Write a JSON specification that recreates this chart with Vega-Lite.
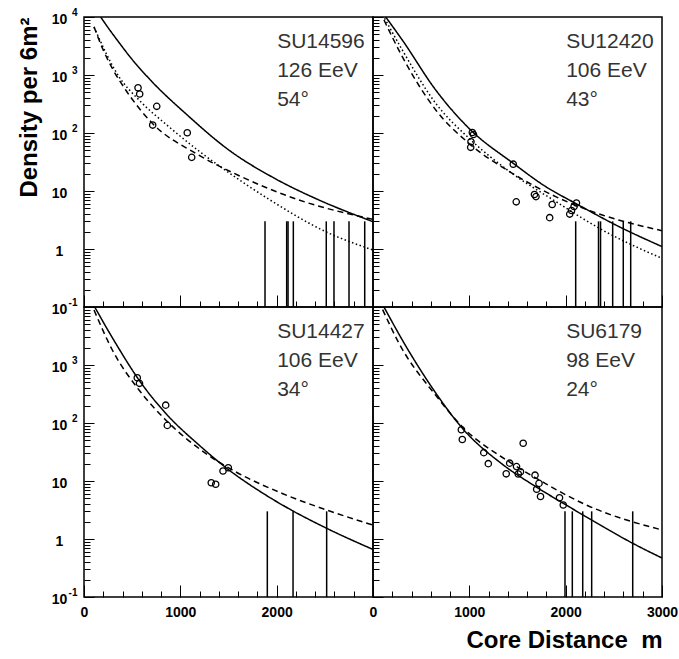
{
  "$schema": "https://vega.github.io/schema/vega-lite/v6.json",
  "background": "white",
  "padding": {"left": 16, "top": 6, "right": 5, "bottom": 5},
  "spacing": 0,
  "columns": 2,
  "bounds": "flush",
  "config": {
    "view": {"stroke": "black", "strokeWidth": 1.5},
    "font": "Liberation Sans",
    "axis": {"domain": false, "grid": false, "tickColor": "black", "tickWidth": 1, "labelFont": "Liberation Sans", "labelFontWeight": "bold", "labelColor": "black", "labelOverlap": false, "labelFlush": false, "labelFontSize": 14, "titleFont": "Liberation Sans", "titleFontWeight": "bold", "titleColor": "black", "titleFontSize": 24}
  },
  "datasets": {
    "pts": [
      {"p": "TL", "d": 561, "rho": 604}, {"p": "TL", "d": 578, "rho": 470}, {"p": "TL", "d": 755, "rho": 288},
      {"p": "TL", "d": 713, "rho": 137}, {"p": "TL", "d": 1072, "rho": 101}, {"p": "TL", "d": 1118, "rho": 38},
      {"p": "TR", "d": 1031, "rho": 102}, {"p": "TR", "d": 1043, "rho": 94}, {"p": "TR", "d": 1017, "rho": 70.8},
      {"p": "TR", "d": 1014, "rho": 56.6}, {"p": "TR", "d": 1456, "rho": 29}, {"p": "TR", "d": 1487, "rho": 6.5},
      {"p": "TR", "d": 1676, "rho": 8.7}, {"p": "TR", "d": 1692, "rho": 8.0}, {"p": "TR", "d": 1860, "rho": 5.85},
      {"p": "TR", "d": 1834, "rho": 3.47}, {"p": "TR", "d": 2042, "rho": 4.0}, {"p": "TR", "d": 2061, "rho": 4.6},
      {"p": "TR", "d": 2087, "rho": 5.4}, {"p": "TR", "d": 2112, "rho": 6.2},
      {"p": "BL", "d": 553, "rho": 604}, {"p": "BL", "d": 576, "rho": 483}, {"p": "BL", "d": 848, "rho": 203},
      {"p": "BL", "d": 865, "rho": 91}, {"p": "BL", "d": 1321, "rho": 9.35}, {"p": "BL", "d": 1367, "rho": 8.8},
      {"p": "BL", "d": 1443, "rho": 14.9}, {"p": "BL", "d": 1498, "rho": 16.9},
      {"p": "BR", "d": 917, "rho": 76.6}, {"p": "BR", "d": 927, "rho": 52}, {"p": "BR", "d": 1150, "rho": 30.8},
      {"p": "BR", "d": 1197, "rho": 19.9}, {"p": "BR", "d": 1383, "rho": 13.3}, {"p": "BR", "d": 1419, "rho": 20.3},
      {"p": "BR", "d": 1490, "rho": 17.7}, {"p": "BR", "d": 1508, "rho": 13.2}, {"p": "BR", "d": 1531, "rho": 14.4},
      {"p": "BR", "d": 1559, "rho": 44.7}, {"p": "BR", "d": 1682, "rho": 12.6}, {"p": "BR", "d": 1723, "rho": 9.1},
      {"p": "BR", "d": 1699, "rho": 7.2}, {"p": "BR", "d": 1739, "rho": 5.4}, {"p": "BR", "d": 1936, "rho": 5.15},
      {"p": "BR", "d": 1975, "rho": 3.86}
    ],
    "curves": [
      {"p": "TL", "s": "solid", "d": 173, "rho": 10000}, {"p": "TL", "s": "solid", "d": 250, "rho": 6546},
      {"p": "TL", "s": "solid", "d": 350, "rho": 3890}, {"p": "TL", "s": "solid", "d": 501, "rho": 1840},
      {"p": "TL", "s": "solid", "d": 700, "rho": 785}, {"p": "TL", "s": "solid", "d": 1072, "rho": 204},
      {"p": "TL", "s": "solid", "d": 1500, "rho": 51.4}, {"p": "TL", "s": "solid", "d": 2000, "rho": 15.8},
      {"p": "TL", "s": "solid", "d": 2422, "rho": 7.2}, {"p": "TL", "s": "solid", "d": 3000, "rho": 2.96},
      {"p": "TL", "s": "dashed", "d": 104, "rho": 6760}, {"p": "TL", "s": "dashed", "d": 200, "rho": 2690},
      {"p": "TL", "s": "dashed", "d": 300, "rho": 1245}, {"p": "TL", "s": "dashed", "d": 433, "rho": 551},
      {"p": "TL", "s": "dashed", "d": 709, "rho": 147}, {"p": "TL", "s": "dashed", "d": 1159, "rho": 44.7},
      {"p": "TL", "s": "dashed", "d": 1600, "rho": 18.7}, {"p": "TL", "s": "dashed", "d": 2232, "rho": 7.0},
      {"p": "TL", "s": "dashed", "d": 3000, "rho": 3.25},
      {"p": "TL", "s": "dotted", "d": 104, "rho": 6700}, {"p": "TL", "s": "dotted", "d": 363, "rho": 935},
      {"p": "TL", "s": "dotted", "d": 571, "rho": 371}, {"p": "TL", "s": "dotted", "d": 882, "rho": 128},
      {"p": "TL", "s": "dotted", "d": 1200, "rho": 47.9}, {"p": "TL", "s": "dotted", "d": 1500, "rho": 20.9},
      {"p": "TL", "s": "dotted", "d": 1920, "rho": 7.2}, {"p": "TL", "s": "dotted", "d": 2509, "rho": 1.99},
      {"p": "TL", "s": "dotted", "d": 3000, "rho": 0.96},
      {"p": "TR", "s": "solid", "d": 132, "rho": 10000}, {"p": "TR", "s": "solid", "d": 304, "rho": 4010},
      {"p": "TR", "s": "solid", "d": 651, "rho": 551}, {"p": "TR", "s": "solid", "d": 997, "rho": 120},
      {"p": "TR", "s": "solid", "d": 1456, "rho": 30}, {"p": "TR", "s": "solid", "d": 1793, "rho": 11.9},
      {"p": "TR", "s": "solid", "d": 2104, "rho": 6.1}, {"p": "TR", "s": "solid", "d": 2554, "rho": 2.43},
      {"p": "TR", "s": "solid", "d": 3000, "rho": 1.1},
      {"p": "TR", "s": "dashed", "d": 114, "rho": 8870}, {"p": "TR", "s": "dashed", "d": 304, "rho": 2070},
      {"p": "TR", "s": "dashed", "d": 651, "rho": 250}, {"p": "TR", "s": "dashed", "d": 997, "rho": 66},
      {"p": "TR", "s": "dashed", "d": 1446, "rho": 20.2}, {"p": "TR", "s": "dashed", "d": 1896, "rho": 8.0},
      {"p": "TR", "s": "dashed", "d": 2380, "rho": 3.86}, {"p": "TR", "s": "dashed", "d": 3000, "rho": 2.07},
      {"p": "TR", "s": "dotted", "d": 120, "rho": 9500}, {"p": "TR", "s": "dotted", "d": 304, "rho": 2700},
      {"p": "TR", "s": "dotted", "d": 651, "rho": 325}, {"p": "TR", "s": "dotted", "d": 997, "rho": 81},
      {"p": "TR", "s": "dotted", "d": 1446, "rho": 20}, {"p": "TR", "s": "dotted", "d": 1896, "rho": 6.6},
      {"p": "TR", "s": "dotted", "d": 2380, "rho": 2.13}, {"p": "TR", "s": "dotted", "d": 3000, "rho": 0.69},
      {"p": "BL", "s": "solid", "d": 111, "rho": 10000}, {"p": "BL", "s": "solid", "d": 329, "rho": 2365},
      {"p": "BL", "s": "solid", "d": 571, "rho": 551}, {"p": "BL", "s": "solid", "d": 848, "rho": 147},
      {"p": "BL", "s": "solid", "d": 1194, "rho": 41.7}, {"p": "BL", "s": "solid", "d": 1443, "rho": 18.6},
      {"p": "BL", "s": "solid", "d": 1886, "rho": 5.74}, {"p": "BL", "s": "solid", "d": 2170, "rho": 3.04},
      {"p": "BL", "s": "solid", "d": 2519, "rho": 1.53}, {"p": "BL", "s": "solid", "d": 3000, "rho": 0.66},
      {"p": "BL", "s": "dashed", "d": 104, "rho": 8870}, {"p": "BL", "s": "dashed", "d": 294, "rho": 1815},
      {"p": "BL", "s": "dashed", "d": 571, "rho": 371}, {"p": "BL", "s": "dashed", "d": 848, "rho": 113},
      {"p": "BL", "s": "dashed", "d": 1263, "rho": 30}, {"p": "BL", "s": "dashed", "d": 1540, "rho": 15.5},
      {"p": "BL", "s": "dashed", "d": 2058, "rho": 6.1}, {"p": "BL", "s": "dashed", "d": 2519, "rho": 3.16},
      {"p": "BL", "s": "dashed", "d": 3000, "rho": 1.74},
      {"p": "BR", "s": "solid", "d": 114, "rho": 10000}, {"p": "BR", "s": "solid", "d": 304, "rho": 2700},
      {"p": "BR", "s": "solid", "d": 651, "rho": 330}, {"p": "BR", "s": "solid", "d": 917, "rho": 85},
      {"p": "BR", "s": "solid", "d": 1342, "rho": 19.5}, {"p": "BR", "s": "solid", "d": 1689, "rho": 8.0},
      {"p": "BR", "s": "solid", "d": 2035, "rho": 3.6}, {"p": "BR", "s": "solid", "d": 2380, "rho": 1.66},
      {"p": "BR", "s": "solid", "d": 2692, "rho": 0.85}, {"p": "BR", "s": "solid", "d": 3000, "rho": 0.47},
      {"p": "BR", "s": "dashed", "d": 100, "rho": 9000}, {"p": "BR", "s": "dashed", "d": 270, "rho": 2365},
      {"p": "BR", "s": "dashed", "d": 651, "rho": 300}, {"p": "BR", "s": "dashed", "d": 927, "rho": 86},
      {"p": "BR", "s": "dashed", "d": 1412, "rho": 21.5}, {"p": "BR", "s": "dashed", "d": 1757, "rho": 9.7},
      {"p": "BR", "s": "dashed", "d": 2208, "rho": 3.9}, {"p": "BR", "s": "dashed", "d": 3000, "rho": 1.43}
    ],
    "bars": [
      {"p": "TL", "d": 1879, "hi": 3}, {"p": "TL", "d": 2104, "hi": 3}, {"p": "TL", "d": 2118, "hi": 3},
      {"p": "TL", "d": 2173, "hi": 3}, {"p": "TL", "d": 2515, "hi": 3}, {"p": "TL", "d": 2595, "hi": 3},
      {"p": "TL", "d": 2751, "hi": 3}, {"p": "TL", "d": 2914, "hi": 3},
      {"p": "TR", "d": 2104, "hi": 3}, {"p": "TR", "d": 2341, "hi": 3}, {"p": "TR", "d": 2362, "hi": 3},
      {"p": "TR", "d": 2488, "hi": 3}, {"p": "TR", "d": 2598, "hi": 3}, {"p": "TR", "d": 2675, "hi": 3},
      {"p": "BL", "d": 1903, "hi": 3}, {"p": "BL", "d": 2170, "hi": 3}, {"p": "BL", "d": 2519, "hi": 3},
      {"p": "BR", "d": 1993, "hi": 3}, {"p": "BR", "d": 2069, "hi": 3}, {"p": "BR", "d": 2177, "hi": 3},
      {"p": "BR", "d": 2270, "hi": 3}, {"p": "BR", "d": 2696, "hi": 3}
    ],
    "labels": [
      {"p": "TL", "d": 2005, "rho": 2925, "t": "SU14596"}, {"p": "TL", "d": 2005, "rho": 925, "t": "126 EeV"}, {"p": "TL", "d": 2005, "rho": 292, "t": "54°"},
      {"p": "TR", "d": 2005, "rho": 2925, "t": "SU12420"}, {"p": "TR", "d": 2005, "rho": 925, "t": "106 EeV"}, {"p": "TR", "d": 2005, "rho": 292, "t": "43°"},
      {"p": "BL", "d": 2005, "rho": 2925, "t": "SU14427"}, {"p": "BL", "d": 2005, "rho": 925, "t": "106 EeV"}, {"p": "BL", "d": 2005, "rho": 292, "t": "34°"},
      {"p": "BR", "d": 2005, "rho": 2925, "t": "SU6179"}, {"p": "BR", "d": 2005, "rho": 925, "t": "98 EeV"}, {"p": "BR", "d": 2005, "rho": 292, "t": "24°"}
    ]
  },
  "concat": [
    {
      "width": 289, "height": 290,
      "resolve": {"axis": {"x": "independent", "y": "independent"}},
      "layer": [
        {
          "data": {"name": "bars"},
          "transform": [{"filter": "datum.p === 'TL'"}],
          "mark": {"type": "rule", "color": "black", "strokeWidth": 1.5},
          "encoding": {
            "x": {"field": "d", "type": "quantitative", "scale": {"domain": [0, 3000], "nice": false, "zero": false},
              "axis": {"orient": "bottom", "values": [0, 1000, 2000, 3000], "tickSize": 12, "offset": -12, "labels": false, "title": null}},
            "y": {"field": "hi", "type": "quantitative", "scale": {"type": "log", "domain": [0.1, 10000], "nice": false},
              "axis": {"orient": "left", "values": [0.1, 1, 10, 100, 1000, 10000], "tickSize": 10, "offset": -10,
                "labelExpr": "datum.value === 1 ? '1' : '10'", "labelAlign": "center", "labelPadding": 25, "labelOffset": 2,
                "title": "Density per 6m²", "titleAnchor": "end", "titlePadding": 10}},
            "y2": {"datum": 0.1}
          }
        },
        {
          "data": {"name": "curves"},
          "transform": [{"filter": "datum.p === 'TL'"}],
          "mark": {"type": "line", "color": "black", "strokeWidth": 1.5, "interpolate": "monotone", "clip": true},
          "encoding": {
            "x": {"field": "d", "type": "quantitative",
              "axis": {"orient": "bottom", "values": [200,400,600,800,1200,1400,1600,1800,2200,2400,2600,2800], "tickSize": 6, "offset": -6, "labels": false, "title": null}},
            "y": {"field": "rho", "type": "quantitative",
              "axis": {"orient": "left", "values": [0.2,0.3,0.4,0.5,0.6,0.7,0.8,0.9,2,3,4,5,6,7,8,9,20,30,40,50,60,70,80,90,200,300,400,500,600,700,800,900,2000,3000,4000,5000,6000,7000,8000,9000], "tickSize": 6, "offset": -6, "labels": false, "title": null}},
            "strokeDash": {"field": "s", "type": "nominal", "scale": {"domain": ["solid", "dashed", "dotted"], "range": [[1, 0], [6, 4], [1.5, 2.5]]}, "legend": null}
          }
        },
        {
          "data": {"name": "pts"},
          "transform": [{"filter": "datum.p === 'TL'"}],
          "mark": {"type": "point", "shape": "circle", "filled": false, "color": "black", "size": 40, "strokeWidth": 1.3, "opacity": 1},
          "encoding": {
            "x": {"field": "d", "type": "quantitative", "axis": null},
            "y": {"field": "rho", "type": "quantitative",
              "axis": {"orient": "left", "values": [0.1, 100, 1000, 10000], "ticks": false,
                "labelExpr": "datum.value === 10000 ? '4' : datum.value === 1000 ? '3' : datum.value === 100 ? '2' : '-1'",
                "labelAlign": "right", "labelFontSize": 10, "labelPadding": 7, "labelOffset": -5, "title": null}}
          }
        },
        {
          "data": {"name": "labels"},
          "transform": [{"filter": "datum.p === 'TL'"}],
          "mark": {"type": "text", "align": "left", "baseline": "alphabetic", "fontSize": 21, "font": "Liberation Sans", "color": "#333"},
          "encoding": {
            "x": {"field": "d", "type": "quantitative", "axis": null},
            "y": {"field": "rho", "type": "quantitative", "axis": null},
            "text": {"field": "t"}
          }
        }
      ]
    },
    {
      "width": 289, "height": 290,
      "resolve": {"axis": {"x": "independent", "y": "independent"}},
      "layer": [
        {
          "data": {"name": "bars"},
          "transform": [{"filter": "datum.p === 'TR'"}],
          "mark": {"type": "rule", "color": "black", "strokeWidth": 1.5},
          "encoding": {
            "x": {"field": "d", "type": "quantitative", "scale": {"domain": [0, 3000], "nice": false, "zero": false},
              "axis": {"orient": "bottom", "values": [0, 1000, 2000, 3000], "tickSize": 12, "offset": -12, "labels": false, "title": null}},
            "y": {"field": "hi", "type": "quantitative", "scale": {"type": "log", "domain": [0.1, 10000], "nice": false},
              "axis": {"orient": "left", "values": [0.1, 1, 10, 100, 1000, 10000], "tickSize": 10, "offset": -10, "labels": false, "title": null}},
            "y2": {"datum": 0.1}
          }
        },
        {
          "data": {"name": "curves"},
          "transform": [{"filter": "datum.p === 'TR'"}],
          "mark": {"type": "line", "color": "black", "strokeWidth": 1.5, "interpolate": "monotone", "clip": true},
          "encoding": {
            "x": {"field": "d", "type": "quantitative",
              "axis": {"orient": "bottom", "values": [200,400,600,800,1200,1400,1600,1800,2200,2400,2600,2800], "tickSize": 6, "offset": -6, "labels": false, "title": null}},
            "y": {"field": "rho", "type": "quantitative",
              "axis": {"orient": "left", "values": [0.2,0.3,0.4,0.5,0.6,0.7,0.8,0.9,2,3,4,5,6,7,8,9,20,30,40,50,60,70,80,90,200,300,400,500,600,700,800,900,2000,3000,4000,5000,6000,7000,8000,9000], "tickSize": 6, "offset": -6, "labels": false, "title": null}},
            "strokeDash": {"field": "s", "type": "nominal", "scale": {"domain": ["solid", "dashed", "dotted"], "range": [[1, 0], [6, 4], [1.5, 2.5]]}, "legend": null}
          }
        },
        {
          "data": {"name": "pts"},
          "transform": [{"filter": "datum.p === 'TR'"}],
          "mark": {"type": "point", "shape": "circle", "filled": false, "color": "black", "size": 40, "strokeWidth": 1.3, "opacity": 1},
          "encoding": {
            "x": {"field": "d", "type": "quantitative", "axis": null},
            "y": {"field": "rho", "type": "quantitative", "axis": null}
          }
        },
        {
          "data": {"name": "labels"},
          "transform": [{"filter": "datum.p === 'TR'"}],
          "mark": {"type": "text", "align": "left", "baseline": "alphabetic", "fontSize": 21, "font": "Liberation Sans", "color": "#333"},
          "encoding": {
            "x": {"field": "d", "type": "quantitative", "axis": null},
            "y": {"field": "rho", "type": "quantitative", "axis": null},
            "text": {"field": "t"}
          }
        }
      ]
    },
    {
      "width": 289, "height": 290,
      "resolve": {"axis": {"x": "independent", "y": "independent"}},
      "layer": [
        {
          "data": {"name": "bars"},
          "transform": [{"filter": "datum.p === 'BL'"}],
          "mark": {"type": "rule", "color": "black", "strokeWidth": 1.5},
          "encoding": {
            "x": {"field": "d", "type": "quantitative", "scale": {"domain": [0, 3000], "nice": false, "zero": false},
              "axis": {"orient": "bottom", "values": [0, 1000, 2000, 3000], "tickSize": 12, "offset": -12,
                "labelExpr": "datum.value < 3000 ? '' + datum.value : ''", "labelPadding": 8, "title": null}},
            "y": {"field": "hi", "type": "quantitative", "scale": {"type": "log", "domain": [0.1, 10000], "nice": false},
              "axis": {"orient": "left", "values": [0.1, 1, 10, 100, 1000, 10000], "tickSize": 10, "offset": -10,
                "labelExpr": "datum.value === 1 ? '1' : datum.value === 10000 ? '' : '10'", "labelAlign": "center", "labelPadding": 25, "labelOffset": 2,
                "title": null}},
            "y2": {"datum": 0.1}
          }
        },
        {
          "data": {"name": "curves"},
          "transform": [{"filter": "datum.p === 'BL'"}],
          "mark": {"type": "line", "color": "black", "strokeWidth": 1.5, "interpolate": "monotone", "clip": true},
          "encoding": {
            "x": {"field": "d", "type": "quantitative",
              "axis": {"orient": "bottom", "values": [200,400,600,800,1200,1400,1600,1800,2200,2400,2600,2800], "tickSize": 6, "offset": -6, "labels": false, "title": null}},
            "y": {"field": "rho", "type": "quantitative",
              "axis": {"orient": "left", "values": [0.2,0.3,0.4,0.5,0.6,0.7,0.8,0.9,2,3,4,5,6,7,8,9,20,30,40,50,60,70,80,90,200,300,400,500,600,700,800,900,2000,3000,4000,5000,6000,7000,8000,9000], "tickSize": 6, "offset": -6, "labels": false, "title": null}},
            "strokeDash": {"field": "s", "type": "nominal", "scale": {"domain": ["solid", "dashed", "dotted"], "range": [[1, 0], [6, 4], [1.5, 2.5]]}, "legend": null}
          }
        },
        {
          "data": {"name": "pts"},
          "transform": [{"filter": "datum.p === 'BL'"}],
          "mark": {"type": "point", "shape": "circle", "filled": false, "color": "black", "size": 40, "strokeWidth": 1.3, "opacity": 1},
          "encoding": {
            "x": {"field": "d", "type": "quantitative", "axis": null},
            "y": {"field": "rho", "type": "quantitative",
              "axis": {"orient": "left", "values": [0.1, 100, 1000], "ticks": false,
                "labelExpr": "datum.value === 1000 ? '3' : datum.value === 100 ? '2' : '-1'",
                "labelAlign": "right", "labelFontSize": 10, "labelPadding": 7, "labelOffset": -5, "title": null}}
          }
        },
        {
          "data": {"name": "labels"},
          "transform": [{"filter": "datum.p === 'BL'"}],
          "mark": {"type": "text", "align": "left", "baseline": "alphabetic", "fontSize": 21, "font": "Liberation Sans", "color": "#333"},
          "encoding": {
            "x": {"field": "d", "type": "quantitative", "axis": null},
            "y": {"field": "rho", "type": "quantitative", "axis": null},
            "text": {"field": "t"}
          }
        }
      ]
    },
    {
      "width": 289, "height": 290,
      "resolve": {"axis": {"x": "independent", "y": "independent"}},
      "layer": [
        {
          "data": {"name": "bars"},
          "transform": [{"filter": "datum.p === 'BR'"}],
          "mark": {"type": "rule", "color": "black", "strokeWidth": 1.5},
          "encoding": {
            "x": {"field": "d", "type": "quantitative", "scale": {"domain": [0, 3000], "nice": false, "zero": false},
              "axis": {"orient": "bottom", "values": [0, 1000, 2000, 3000], "tickSize": 12, "offset": -12,
                "labelExpr": "'' + datum.value", "labelPadding": 8,
                "title": "Core Distance\u00a0 m", "titleAnchor": "end", "titlePadding": 9}},
            "y": {"field": "hi", "type": "quantitative", "scale": {"type": "log", "domain": [0.1, 10000], "nice": false},
              "axis": {"orient": "left", "values": [0.1, 1, 10, 100, 1000, 10000], "tickSize": 10, "offset": -10, "labels": false, "title": null}},
            "y2": {"datum": 0.1}
          }
        },
        {
          "data": {"name": "curves"},
          "transform": [{"filter": "datum.p === 'BR'"}],
          "mark": {"type": "line", "color": "black", "strokeWidth": 1.5, "interpolate": "monotone", "clip": true},
          "encoding": {
            "x": {"field": "d", "type": "quantitative",
              "axis": {"orient": "bottom", "values": [200,400,600,800,1200,1400,1600,1800,2200,2400,2600,2800], "tickSize": 6, "offset": -6, "labels": false, "title": null}},
            "y": {"field": "rho", "type": "quantitative",
              "axis": {"orient": "left", "values": [0.2,0.3,0.4,0.5,0.6,0.7,0.8,0.9,2,3,4,5,6,7,8,9,20,30,40,50,60,70,80,90,200,300,400,500,600,700,800,900,2000,3000,4000,5000,6000,7000,8000,9000], "tickSize": 6, "offset": -6, "labels": false, "title": null}},
            "strokeDash": {"field": "s", "type": "nominal", "scale": {"domain": ["solid", "dashed", "dotted"], "range": [[1, 0], [6, 4], [1.5, 2.5]]}, "legend": null}
          }
        },
        {
          "data": {"name": "pts"},
          "transform": [{"filter": "datum.p === 'BR'"}],
          "mark": {"type": "point", "shape": "circle", "filled": false, "color": "black", "size": 40, "strokeWidth": 1.3, "opacity": 1},
          "encoding": {
            "x": {"field": "d", "type": "quantitative", "axis": null},
            "y": {"field": "rho", "type": "quantitative", "axis": null}
          }
        },
        {
          "data": {"name": "labels"},
          "transform": [{"filter": "datum.p === 'BR'"}],
          "mark": {"type": "text", "align": "left", "baseline": "alphabetic", "fontSize": 21, "font": "Liberation Sans", "color": "#333"},
          "encoding": {
            "x": {"field": "d", "type": "quantitative", "axis": null},
            "y": {"field": "rho", "type": "quantitative", "axis": null},
            "text": {"field": "t"}
          }
        }
      ]
    }
  ]
}
